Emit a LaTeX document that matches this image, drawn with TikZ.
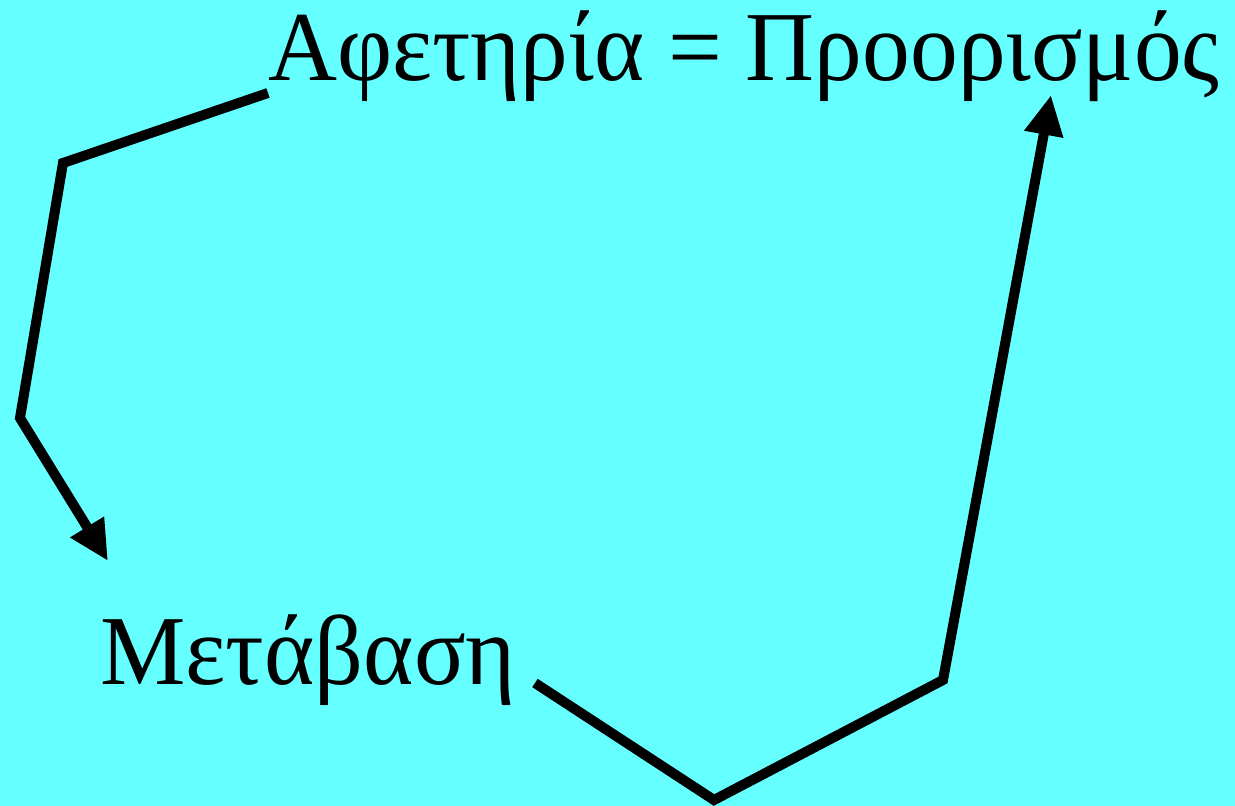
\documentclass[tikz,border=0pt]{standalone}
\usepackage{fontspec}
\setmainfont{Liberation Serif}
\usetikzlibrary{arrows.meta}
\definecolor{bgcyan}{HTML}{66FFFF}
\begin{document}
\begin{tikzpicture}[x=1pt,y=-1pt,
  lbl/.style={anchor=base west,inner sep=0pt,font=\fontsize{99}{110}\selectfont},
  conn/.style={line width=10pt,miter limit=10,-{Triangle[length=40pt,width=37pt]}}]
\fill[bgcyan] (0,0) rectangle (1235,806);
\useasboundingbox (0,0) rectangle (1235,806);
\node[lbl] (top) at (268,80) {\scalebox{0.965}[1]{Αφετηρία = Προορισμός}};
\node[lbl] (mid) at (100,684) {\scalebox{0.97}[1]{Μετάβαση}};
\coordinate (a0) at (268,93);
\coordinate (a1) at (63,163);
\coordinate (a2) at (20,418);
\coordinate (a3) at (108,561);
\coordinate (b0) at (535,683);
\coordinate (b1) at (714,800);
\coordinate (b2) at (943,680);
\coordinate (b3) at (1051,95);
\draw[conn] (a0) -- (a1) -- (a2) -- (a3);
\draw[conn] (b0) -- (b1) -- (b2) -- (b3);
\end{tikzpicture}
\end{document}
